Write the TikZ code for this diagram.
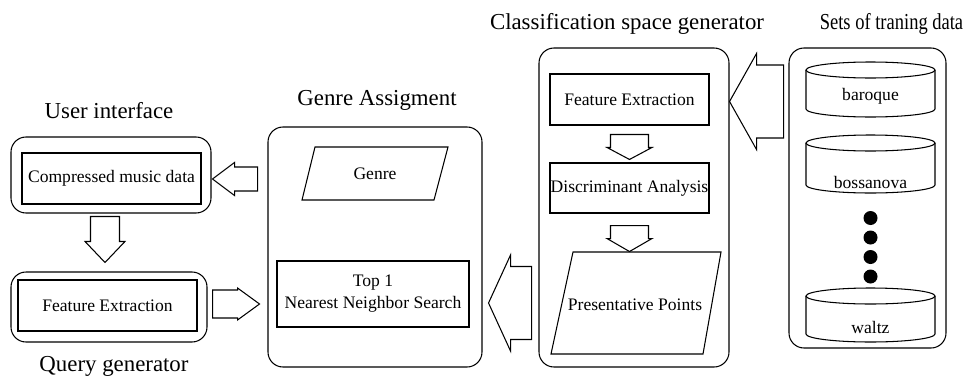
\documentclass[tikz,border=0pt]{standalone}
\usepackage{fontspec}
\setmainfont{Liberation Serif}
\usetikzlibrary{calc}

\newcommand{\pxu}{0.02cm}
\newcommand{\fatarrow}[6]{%
  \begin{scope}[shift={#1}, rotate=#2]
    \draw[fat] (0,0) -- (-#4,#6) -- (-#4,#5) -- (-#3,#5) -- (-#3,-#5) -- (-#4,-#5) -- (-#4,-#6) -- cycle;
  \end{scope}}

\begin{document}
\begin{tikzpicture}[
    x=\pxu, y=-\pxu,
    line width=0.6pt,
    outerbox/.style={draw, rounded corners=0.3cm, inner sep=0pt},
    innerbox/.style={draw, inner sep=0pt, align=center, font=\fontsize{10}{12.5}\selectfont},
    label/.style={font=\fontsize{10}{12.5}\selectfont, inner sep=0pt},
    title/.style={anchor=base, inner sep=0pt, font=\fontsize{13}{15}\selectfont},
    fat/.style={draw, fill=white, line join=miter}
]
    \useasboundingbox (0,0) rectangle (967,379);

    \node[title] (uititle) at (109,118) {User interface};
    \node[title] (qgtitle) at (114,371) {Query generator};
    \node[title] (gatitle) at (377,105) {Genre Assigment};
    \node[title] (csgtitle) at (627,29) {Classification space generator};
    \node[title] (settitle) at (891.5,29) {\scalebox{0.81}[1]{Sets of traning data}};

    \node[outerbox, minimum width=200*\pxu, minimum height=76*\pxu] (uibox) at (111,175) {};
    \node[innerbox, minimum width=179*\pxu, minimum height=51*\pxu] (uidata) at (111.5,178.5) {Compressed music data};
    \node[outerbox, minimum width=196*\pxu, minimum height=70*\pxu] (qgbox) at (109,307) {};
    \node[innerbox, minimum width=179*\pxu, minimum height=51*\pxu] (qfeat) at (107.5,305.5) {Feature Extraction};

    \node[outerbox, minimum width=214*\pxu, minimum height=240*\pxu] (gabox) at (375,247) {};
    \draw (315,147) -- (448,147) -- (434,200) -- (302,200) -- cycle;
    \node[label] (genre) at (375,173.5) {Genre};
    \node[innerbox, minimum width=192*\pxu, minimum height=66*\pxu] (nn) at (373,294) {Top 1\\Nearest Neighbor Search};

    \node[outerbox, minimum width=190*\pxu, minimum height=319*\pxu] (csgbox) at (634,207.5) {};
    \node[innerbox, minimum width=159*\pxu, minimum height=51*\pxu] (cfeat) at (629.5,99.5) {Feature Extraction};
    \node[innerbox, minimum width=159*\pxu, minimum height=50*\pxu] (disc) at (629.5,188) {Discriminant Analysis};
    \draw (573,252) -- (721,252) -- (703,354) -- (551,354) -- cycle;
    \node[label] (points) at (635,305) {Presentative Points};

    \node[outerbox, minimum width=157*\pxu, minimum height=300*\pxu] (setbox) at (867.5,198) {};
    \foreach \nm/\yt/\yb/\ty in {baroque/70/109/100, bossanova/143/185/188, waltz/296/334/333} {
        \draw (806,\yt) -- (806,\yb) arc[start angle=180, end angle=360, x radius=64.5*\pxu, y radius=8*\pxu] -- (935,\yt);
        \draw (870.5,\yt) ellipse [x radius=64.5*\pxu, y radius=8*\pxu];
        \node[label, anchor=base] (\nm) at (870.5,\ty) {\nm};
    }
    \foreach \y in {218,237.5,257,276.5}
        \fill (870.5,\y) circle[radius=7*\pxu];

    \fatarrow{($(uibox.east)+(1,4)$)}{180}{45}{22}{12}{16.5}
    \fatarrow{($(qgbox.north)+(-4,-9)$)}{-90}{46}{21}{14.5}{20}
    \fatarrow{($(qgbox.east)+(52,-3)$)}{0}{47}{22}{14}{16}
    \fatarrow{($(gabox.east)+(6,56)$)}{180}{43}{22}{36.5}{48}
    \fatarrow{($(csgbox.east)+(0,-106)$)}{180}{54}{27}{36.5}{48}
    \fatarrow{($(disc.north)+(0,-3)$)}{-90}{25}{12}{19}{22.5}
    \fatarrow{($(disc.south)+(0,38)$)}{-90}{26}{13}{19}{22.5}
\end{tikzpicture}
\end{document}
